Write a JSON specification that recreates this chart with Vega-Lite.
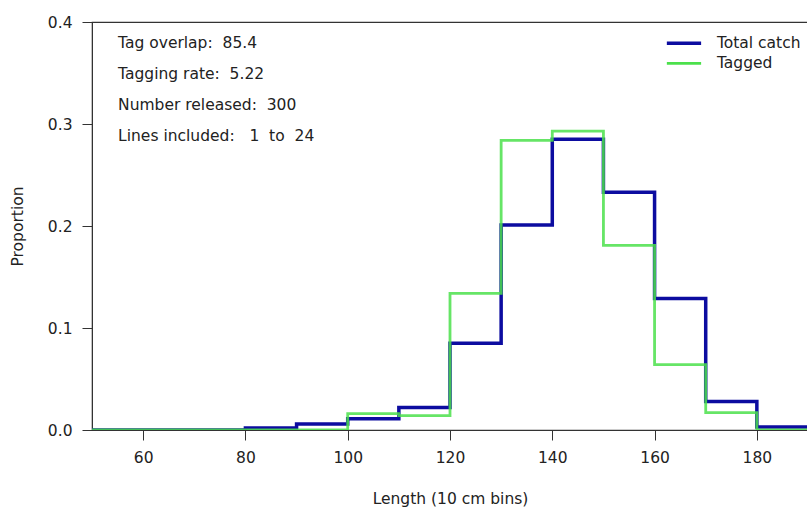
{
  "$schema": "https://vega.github.io/schema/vega-lite/v6.json",
  "width": 716,
  "height": 408,
  "autosize": {"type": "none"},
  "padding": {"left": 92, "top": 22, "right": 0, "bottom": 82},
  "background": "white",
  "config": {
    "font": "DejaVu Sans",
    "view": {"stroke": "#333333", "strokeWidth": 1.2},
    "axis": {
      "grid": false,
      "domainColor": "#333333",
      "tickColor": "#333333",
      "tickSize": 10,
      "labelColor": "#222222",
      "titleColor": "#222222",
      "labelFontSize": 15.5,
      "titleFontSize": 15.5,
      "titleFontWeight": "normal",
      "labelFont": "DejaVu Sans",
      "titleFont": "DejaVu Sans"
    }
  },
  "data": {
    "values": [
      {"length": 50, "proportion": 0, "series": "Total catch"},
      {"length": 60, "proportion": 0, "series": "Total catch"},
      {"length": 70, "proportion": 0, "series": "Total catch"},
      {"length": 80, "proportion": 0.002, "series": "Total catch"},
      {"length": 90, "proportion": 0.006, "series": "Total catch"},
      {"length": 100, "proportion": 0.011, "series": "Total catch"},
      {"length": 110, "proportion": 0.022, "series": "Total catch"},
      {"length": 120, "proportion": 0.085, "series": "Total catch"},
      {"length": 130, "proportion": 0.201, "series": "Total catch"},
      {"length": 140, "proportion": 0.285, "series": "Total catch"},
      {"length": 150, "proportion": 0.233, "series": "Total catch"},
      {"length": 160, "proportion": 0.129, "series": "Total catch"},
      {"length": 170, "proportion": 0.028, "series": "Total catch"},
      {"length": 180, "proportion": 0.003, "series": "Total catch"},
      {"length": 190, "proportion": 0.003, "series": "Total catch"},
      {"length": 50, "proportion": 0, "series": "Tagged"},
      {"length": 60, "proportion": 0, "series": "Tagged"},
      {"length": 70, "proportion": 0, "series": "Tagged"},
      {"length": 80, "proportion": 0, "series": "Tagged"},
      {"length": 90, "proportion": 0, "series": "Tagged"},
      {"length": 100, "proportion": 0.016, "series": "Tagged"},
      {"length": 110, "proportion": 0.014, "series": "Tagged"},
      {"length": 120, "proportion": 0.134, "series": "Tagged"},
      {"length": 130, "proportion": 0.284, "series": "Tagged"},
      {"length": 140, "proportion": 0.293, "series": "Tagged"},
      {"length": 150, "proportion": 0.181, "series": "Tagged"},
      {"length": 160, "proportion": 0.064, "series": "Tagged"},
      {"length": 170, "proportion": 0.017, "series": "Tagged"},
      {"length": 180, "proportion": 0, "series": "Tagged"},
      {"length": 190, "proportion": 0, "series": "Tagged"}
    ]
  },
  "layer": [
    {
      "transform": [{"filter": "datum.series === 'Total catch'"}],
      "mark": {"type": "line", "interpolate": "step-after", "clip": true, "strokeWidth": 3.5},
      "encoding": {
        "x": {
          "field": "length", "type": "quantitative",
          "scale": {"domain": [50, 190], "nice": false, "zero": false},
          "axis": {"values": [60, 80, 100, 120, 140, 160, 180], "title": "Length (10 cm bins)", "labelPadding": 10, "titlePadding": 26}
        },
        "y": {
          "field": "proportion", "type": "quantitative",
          "scale": {"domain": [0, 0.4], "nice": false},
          "axis": {"values": [0, 0.1, 0.2, 0.3, 0.4], "format": ".1f", "title": "Proportion", "labelPadding": 10, "titlePadding": 22}
        },
        "color": {
          "field": "series", "type": "nominal",
          "scale": {"domain": ["Total catch", "Tagged"], "range": ["#0c0ca0", "#4be04b"]},
          "legend": null
        }
      }
    },
    {
      "transform": [{"filter": "datum.series === 'Tagged'"}],
      "mark": {"type": "line", "interpolate": "step-after", "clip": true, "strokeWidth": 2.8, "opacity": 0.85},
      "encoding": {
        "x": {"field": "length", "type": "quantitative"},
        "y": {"field": "proportion", "type": "quantitative"},
        "color": {"field": "series", "type": "nominal"}
      }
    },
    {
      "data": {"values": [{"series": "Total catch"}]},
      "mark": {"type": "rule", "strokeWidth": 3.5},
      "encoding": {
        "x": {"datum": 162.4},
        "x2": {"datum": 169.1},
        "y": {"datum": 0.3791},
        "color": {"field": "series", "type": "nominal"}
      }
    },
    {
      "data": {"values": [{"series": "Tagged"}]},
      "mark": {"type": "rule", "strokeWidth": 2.8},
      "encoding": {
        "x": {"datum": 162.4},
        "x2": {"datum": 169.1},
        "y": {"datum": 0.3595},
        "color": {"field": "series", "type": "nominal"}
      }
    },
    {
      "data": {"values": [{"series": "Total catch"}]},
      "mark": {"type": "text", "align": "left", "baseline": "middle", "fontSize": 15.5, "font": "DejaVu Sans", "color": "#222222"},
      "encoding": {
        "x": {"datum": 172.2},
        "y": {"datum": 0.3791},
        "text": {"field": "series"}
      }
    },
    {
      "data": {"values": [{"series": "Tagged"}]},
      "mark": {"type": "text", "align": "left", "baseline": "middle", "fontSize": 15.5, "font": "DejaVu Sans", "color": "#222222"},
      "encoding": {
        "x": {"datum": 172.2},
        "y": {"datum": 0.3595},
        "text": {"field": "series"}
      }
    },
    {
      "data": {"values": [{"note": "annotation"}]},
      "mark": {
        "type": "text",
        "align": "left",
        "baseline": "alphabetic",
        "fontSize": 15.5,
        "font": "DejaVu Sans",
        "color": "#222222",
        "lineHeight": 31,
        "text": ["Tag overlap:\u00a0 85.4", "Tagging rate:\u00a0 5.22", "Number released:\u00a0 300", "Lines included:\u00a0\u00a0 1\u00a0 to\u00a0 24"]
      },
      "encoding": {
        "x": {"datum": 55.1},
        "y": {"datum": 0.375}
      }
    }
  ]
}
